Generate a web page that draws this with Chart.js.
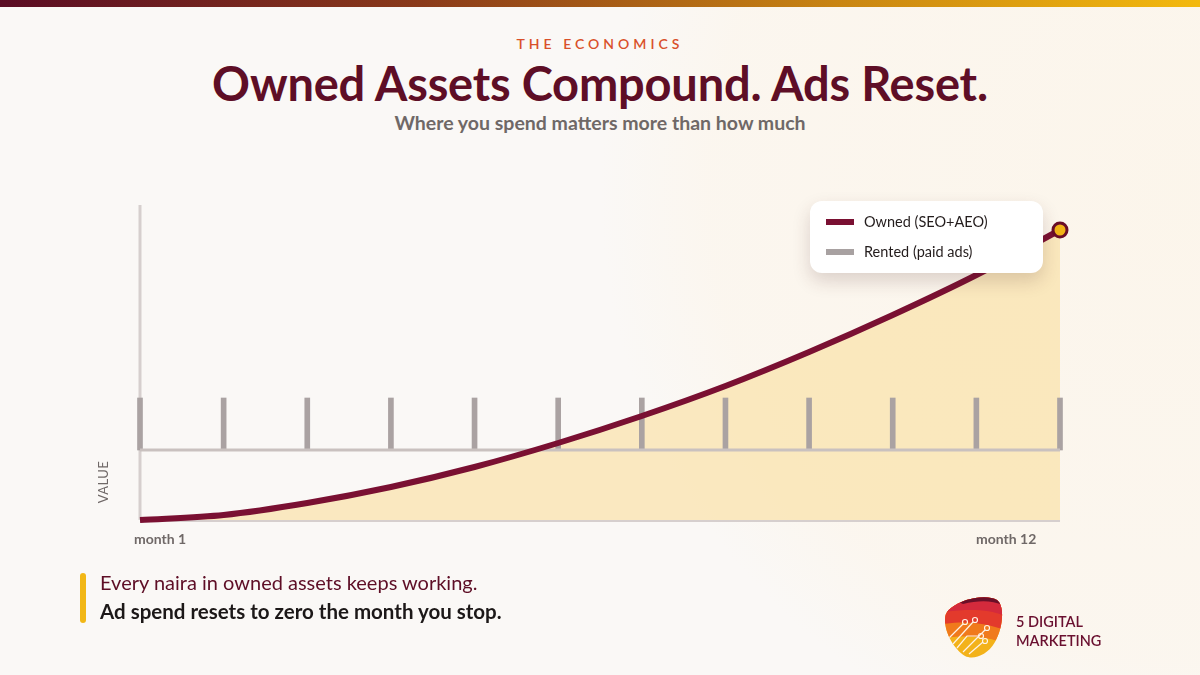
<!DOCTYPE html>
<html>
<head>
<meta charset="utf-8">
<script src="https://cdn.jsdelivr.net/npm/chart.js@4.4.1/dist/chart.umd.min.js"></script>
<style>
  html, body { margin: 0; padding: 0; }
  body {
    width: 1200px; height: 675px; overflow: hidden; position: relative;
    font-family: Lato, "Open Sans", sans-serif;
    background: #faf8f6;
  }
  .glow {
    position: absolute; left: 0; top: 0; width: 1200px; height: 675px;
    background: radial-gradient(circle at 1180px 190px, rgba(253, 243, 226, 0.55) 0, rgba(253, 244, 230, 0.45) 470px, rgba(250, 248, 246, 0) 580px);
  }
  .topbar {
    position: absolute; left: 0; top: 0; width: 1200px; height: 7px;
    background: linear-gradient(90deg, #5a0c24 0%, #8a3a1a 35%, #c98512 70%, #f3b90e 100%);
  }
  .kicker {
    position: absolute; top: 35px; width: 100%; text-align: center;
    color: #d9502a; font-size: 14px; letter-spacing: 4px; font-weight: 600;
  }
  h1 {
    position: absolute; top: 55px; width: 100%; margin: 0; text-align: center;
    color: #5e0e26; font-size: 47px; font-weight: 700; letter-spacing: -0.2px;
  }
  .sub {
    position: absolute; top: 111px; width: 100%; text-align: center;
    color: #6f6867; font-size: 19.5px; font-weight: 700;
  }
  #wrap { position: absolute; left: 0; top: 0; width: 1200px; height: 675px; }
  .legend {
    position: absolute; left: 810px; top: 201px; width: 233px; height: 72px;
    background: #fff; border-radius: 12px;
    box-shadow: 0 8px 18px rgba(80, 40, 40, 0.18);
  }
  .legend .row { position: absolute; left: 16px; font-size: 14.5px; color: #231c1c; }
  .legend .sw { display: inline-block; width: 28px; height: 6px; vertical-align: middle; margin-right: 10px; margin-top: -2px; }
  .vlabel {
    position: absolute; left: 78px; top: 474px; width: 50px; text-align: center;
    transform: rotate(-90deg); color: #6f6867; font-size: 13px; letter-spacing: 0.4px;
  }
  .mlabel { position: absolute; top: 530px; color: #6f6867; font-size: 14px; font-weight: 700; }
  .bar { position: absolute; left: 80px; top: 573px; width: 6px; height: 50px; border-radius: 3px; background: #f2b716; }
  .note1 { position: absolute; left: 100px; top: 570px; color: #5e0e26; font-size: 20px; }
  .note2 { position: absolute; left: 100px; top: 599px; color: #1c1818; font-size: 20.5px; font-weight: 700; }
  .brand { position: absolute; left: 1016px; top: 612px; color: #6a1030; font-size: 14.5px; line-height: 19px; font-weight: 600; }
  .logo { position: absolute; left: 943px; top: 594px; }
</style>
</head>
<body>
<div class="glow"></div>
<div class="topbar"></div>
<div class="kicker">THE ECONOMICS</div>
<h1>Owned Assets Compound. Ads Reset.</h1>
<div class="sub">Where you spend matters more than how much</div>
<div id="wrap"><canvas id="chart" width="1200" height="675"></canvas></div>
<div class="legend">
  <div class="row" style="top:12px"><span class="sw" style="background:#7a1032"></span>Owned (SEO+AEO)</div>
  <div class="row" style="top:42px"><span class="sw" style="background:#a8a1a1"></span>Rented (paid ads)</div>
</div>
<div class="vlabel">VALUE</div>
<div class="mlabel" style="left:134px">month 1</div>
<div class="mlabel" style="left:976px">month 12</div>
<div class="bar"></div>
<div class="note1">Every naira in owned assets keeps working.</div>
<div class="note2">Ad spend resets to zero the month you stop.</div>
<div class="brand">5 DIGITAL<br>MARKETING</div>
<svg class="logo" width="62" height="66" viewBox="0 0 62 66">
  <defs>
    <clipPath id="blob">
      <path d="M8 14 C20 4 44 0 54 6 C62 12 60 34 52 48 C44 62 30 66 22 62 C12 56 2 40 2 26 C2 20 4 17 8 14 Z"/>
    </clipPath>
  </defs>
  <g clip-path="url(#blob)">
    <rect x="0" y="0" width="62" height="66" fill="#f3b21a"/>
    <path d="M0 0 H62 V50 C50 44 30 40 0 44 Z" fill="#f07a1c"/>
    <path d="M0 0 H62 V36 C46 30 26 26 0 30 Z" fill="#e33a2c"/>
    <path d="M0 0 H62 V22 C48 16 30 14 0 18 Z" fill="#d42a3c"/>
    <path d="M0 0 H62 V12 C50 6 36 6 20 10 Z" fill="#6a0f28"/>
    <g stroke="#fff3e6" stroke-width="1.2" fill="none">
      <path d="M10 50 L30 28"/><circle cx="32" cy="26" r="2.5"/>
      <path d="M14 54 L24 42 L36 42"/><circle cx="38" cy="42" r="2.5"/>
      <path d="M20 58 L38 40 L42 36"/><circle cx="44" cy="34" r="2.5"/>
      <path d="M26 60 L40 48"/><circle cx="42" cy="47" r="2.5"/>
      <path d="M6 44 L20 30"/><circle cx="22" cy="28" r="2.5"/>
    </g>
  </g>
</svg>
<script>
const months = ['1', '2', '3', '4', '5', '6', '7', '8', '9', '10', '11', '12'];
const ownedValues = [0, 5, 17, 33, 53, 77, 104, 134, 168, 205, 245, 290];
const rentedBase = [70, 70, 70, 70, 70, 70, 70, 70, 70, 70, 70, 70];
const rentedPeak = [122, 122, 122, 122, 122, 122, 122, 122, 122, 122, 122, 122];
const yMax = 315;

// light axis lines drawn under the data
const axisLines = {
  id: 'axisLines',
  beforeDatasetsDraw(chart) {
    const { ctx, chartArea } = chart;
    ctx.save();
    ctx.strokeStyle = '#d6cfce';
    ctx.lineWidth = 2;
    ctx.beginPath();
    ctx.moveTo(chartArea.left, chartArea.bottom + 1);
    ctx.lineTo(chartArea.right, chartArea.bottom + 1);
    ctx.stroke();
    ctx.lineWidth = 3;
    ctx.beginPath();
    ctx.moveTo(chartArea.left, chartArea.top);
    ctx.lineTo(chartArea.left, chartArea.bottom);
    ctx.stroke();
    ctx.restore();
  }
};

const ctx = document.getElementById('chart');
new Chart(ctx.getContext('2d'), {
  data: {
    labels: months,
    datasets: [
      {
        type: 'line',
        label: 'Owned (SEO+AEO)',
        data: ownedValues,
        borderColor: '#7a1032',
        borderWidth: 6,
        tension: 0.3,
        fill: 'origin',
        backgroundColor: 'rgba(250, 226, 170, 0.72)',
        pointRadius: ownedValues.map((v, i) => i === ownedValues.length - 1 ? 7 : 0),
        pointBackgroundColor: '#f2b417',
        pointBorderColor: '#6a0d28',
        pointBorderWidth: 3,
        clip: false,
        order: 1
      },
      {
        type: 'line',
        label: 'Rented base',
        data: rentedBase,
        borderColor: '#c9c1bf',
        borderWidth: 3,
        pointRadius: 0,
        tension: 0,
        clip: false,
        order: 2
      },
      {
        type: 'bar',
        label: 'Rented (paid ads)',
        data: rentedPeak.map((p, i) => [rentedBase[i], p]),
        backgroundColor: '#aaa2a2',
        barThickness: 5,
        clip: false,
        order: 3
      }
    ]
  },
  options: {
    responsive: false,
    animation: false,
    layout: { padding: { left: 140, right: 140, top: 205, bottom: 155 } },
    plugins: {
      legend: { display: false },
      tooltip: { enabled: false },
      filler: { drawTime: 'beforeDatasetsDraw' }
    },
    scales: {
      x: { display: false, offset: false, grid: { offset: false } },
      y: { display: false, min: 0, max: yMax }
    }
  },
  plugins: [axisLines]
});
</script>
</body>
</html>
